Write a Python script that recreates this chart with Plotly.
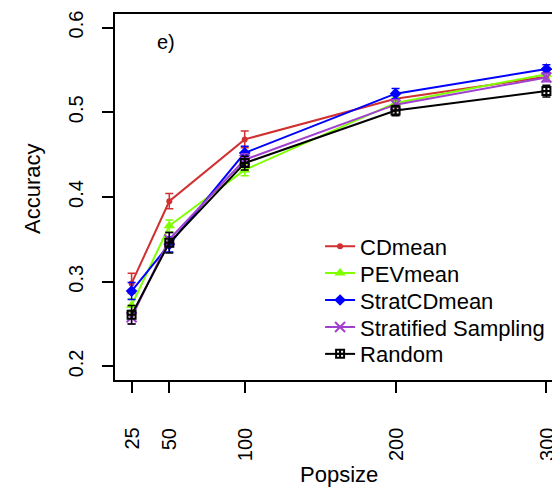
import plotly.graph_objects as go

popsize = [25, 50, 100, 200, 300]

cdmean = [0.298, 0.395, 0.468, 0.516, 0.542]
cdmean_err = [0.012, 0.009, 0.010, 0.006, 0.005]

pevmean = [0.272, 0.366, 0.432, 0.511, 0.545]
pevmean_err = [0.008, 0.007, 0.007, 0.006, 0.005]

stratcdmean = [0.289, 0.344, 0.452, 0.522, 0.551]
stratcdmean_err = [0.010, 0.009, 0.008, 0.006, 0.005]

stratified = [0.258, 0.350, 0.444, 0.509, 0.541]
stratified_err = [0.008, 0.008, 0.007, 0.006, 0.005]

random_acc = [0.261, 0.346, 0.440, 0.502, 0.525]
random_err = [0.011, 0.012, 0.008, 0.006, 0.007]

x_ticks = [25, 50, 100, 200, 300]
y_ticks = [0.2, 0.3, 0.4, 0.5, 0.6]

series = [
    ("CDmean", cdmean, cdmean_err, "#D03030", dict(symbol="circle", size=6)),
    ("PEVmean", pevmean, pevmean_err, "#7FFF00", dict(symbol="triangle-up", size=10)),
    ("StratCDmean", stratcdmean, stratcdmean_err, "#0000FF", dict(symbol="diamond", size=9)),
    ("Stratified Sampling", stratified, stratified_err, "#A040D0",
     dict(symbol="x-thin-open", size=10, line=dict(width=2, color="#A040D0"))),
    ("Random", random_acc, random_err, "#000000",
     dict(symbol="square-cross-open", size=8, line=dict(width=2, color="#000000"))),
]

# page is offset by the 8px body margin; plot area in window: x 115..565, y 13..380
def px_x(X):
    return (X - 115) / 450

def px_y(Y):
    return (380 - Y) / 367

font = "Liberation Sans, Arial, sans-serif"
legend_names = ["legend", "legend2", "legend3", "legend4", "legend5"]
legend_centers = [246, 273, 300, 327, 354]

fig = go.Figure()
for (name, vals, err, color, mk), lg in zip(series, legend_names):
    fig.add_trace(go.Scatter(
        x=popsize, y=vals, name=name, mode="lines+markers",
        line=dict(color=color, width=2),
        marker=dict(color=color, **mk),
        error_y=dict(type="data", array=err, visible=True, color=color,
                     thickness=1.5, width=4),
        legend=lg,
    ))

layout_legends = {}
for lg, cy in zip(legend_names, legend_centers):
    layout_legends[lg] = dict(x=px_x(321), y=px_y(cy), xanchor="left", yanchor="middle",
                              font=dict(size=22, family=font), bgcolor="rgba(0,0,0,0)")

# x tick labels at the axis' own tick values (data coordinates), rotated like R's las=2
tick_font_size = 20
tick_label_annotations = [
    dict(text=str(v), xref="x", yref="paper", x=v,
         y=px_y(428 + 0.556 * tick_font_size * len(str(v)) / 2), showarrow=False,
         textangle=-90, xanchor="center", yanchor="middle",
         font=dict(size=tick_font_size, family=font))
    for v in x_ticks
]

fig.update_layout(
    width=560, height=489,
    margin=dict(l=107, r=3, t=5, b=117),
    paper_bgcolor="white", plot_bgcolor="white",
    font=dict(family=font, size=20, color="black"),
    showlegend=True,
    xaxis=dict(range=[14, 311], tickvals=x_ticks, showticklabels=False,
               ticks="outside", ticklen=11, tickwidth=1.5, tickcolor="black",
               showline=True, linecolor="black", linewidth=1.5, mirror=True,
               showgrid=False, zeroline=False),
    yaxis=dict(range=[0.184, 0.616], tickvals=y_ticks, ticktext=["%.1f" % v for v in y_ticks],
               tickangle=-90, ticks="outside", ticklen=11, tickwidth=1.5, tickcolor="black",
               showline=True, linecolor="black", linewidth=1.5, mirror=True,
               showgrid=False, zeroline=False, ticklabelstandoff=11,
               tickfont=dict(size=tick_font_size)),
    annotations=tick_label_annotations + [
        dict(text="Accuracy", xref="paper", yref="paper", x=px_x(32),
             y=px_y(188), showarrow=False, textangle=-90,
             font=dict(size=22, family=font), xanchor="center", yanchor="middle"),
        dict(text="Popsize", xref="paper", yref="paper", x=px_x(340),
             y=px_y(475), showarrow=False,
             font=dict(size=22, family=font), xanchor="center", yanchor="middle"),
        dict(text="e)", xref="paper", yref="paper", x=px_x(166),
             y=px_y(41), showarrow=False,
             font=dict(size=20, family=font), xanchor="center", yanchor="middle"),
    ],
    **layout_legends,
)

fig.write_html("out.html")
